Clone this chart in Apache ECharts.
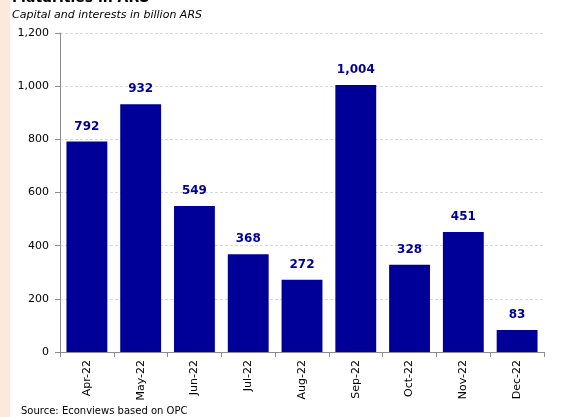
<!DOCTYPE html>
<html>
<head>
<meta charset="utf-8">
<script src="https://cdn.jsdelivr.net/npm/echarts@6/dist/echarts.min.js"></script>
<style>
  html, body { margin: 0; padding: 0; background: #ffffff; }
  #chart { width: 561px; height: 417px; }
</style>
</head>
<body>
<div id="chart"></div>
<script>
// Monthly maturities (capital + interests), billion ARS
const months = ['Apr-22', 'May-22', 'Jun-22', 'Jul-22', 'Aug-22', 'Sep-22', 'Oct-22', 'Nov-22', 'Dec-22'];
const maturities = [792, 932, 549, 368, 272, 1004, 328, 451, 83];
const yTicks = [0, 200, 400, 600, 800, 1000, 1200];

const font = '"DejaVu Sans", Verdana, sans-serif';
const chart = echarts.init(document.getElementById('chart'), null, { renderer: 'canvas' });

chart.setOption({
  animation: false,
  backgroundColor: '#ffffff',
  graphic: [
    { type: 'rect', left: 0, top: 0, shape: { width: 10, height: 417 }, style: { fill: '#fde9dc' } },
    { type: 'text', left: 12, top: -9, style: { text: 'Maturities in ARS', font: 'bold 14px ' + font, fill: '#000000' } },
    { type: 'text', left: 12, top: 10, style: { text: 'Capital and interests in billion ARS', font: 'italic 11px ' + font, fill: '#000000' } },
    { type: 'text', left: 21, top: 406, style: { text: 'Source: Econviews based on OPC', font: '10px ' + font, fill: '#000000' } }
  ],
  grid: { left: 60, right: 17, top: 33, bottom: 65, containLabel: false },
  xAxis: {
    type: 'category',
    data: months,
    axisLine: { lineStyle: { color: '#8c8c8c', width: 1 } },
    axisTick: { show: true, length: 5, alignWithLabel: false, lineStyle: { color: '#8c8c8c' } },
    axisLabel: { rotate: 90, color: '#000000', fontSize: 11, fontFamily: font, margin: 8, interval: 0 }
  },
  yAxis: {
    type: 'value',
    min: yTicks[0],
    max: yTicks[yTicks.length - 1],
    interval: 200,
    axisLine: { show: true, lineStyle: { color: '#8c8c8c', width: 1 } },
    axisTick: { show: true, length: 5, lineStyle: { color: '#8c8c8c' } },
    axisLabel: {
      color: '#000000', fontSize: 11, fontFamily: font, margin: 11,
      formatter: v => v.toLocaleString('en-US')
    },
    splitLine: { show: true, lineStyle: { color: '#d9d9d9', type: [3, 2], width: 1 } }
  },
  series: [{
    type: 'bar',
    data: maturities,
    barCategoryGap: '24%',
    itemStyle: { color: '#000099' },
    label: {
      show: true,
      position: 'top',
      distance: 9,
      color: '#000099',
      fontWeight: 'bold',
      fontSize: 12,
      fontFamily: font,
      formatter: p => p.value.toLocaleString('en-US')
    }
  }]
});
</script>
</body>
</html>
